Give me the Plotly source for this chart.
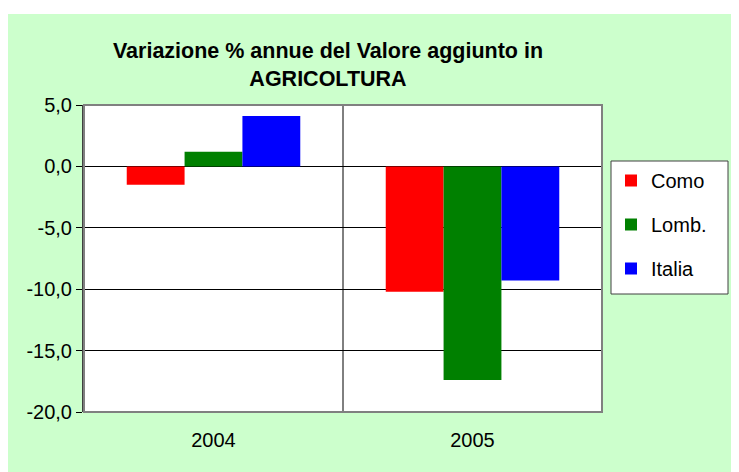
import plotly.graph_objects as go

years = ["2004", "2005"]
como = [-1.5, -10.2]
lomb = [1.2, -17.4]
italia = [4.1, -9.3]

series_names = ["Como", "Lomb.", "Italia"]
series_colors = ["#FF0000", "#008000", "#0000FF"]

y_ticks = [-20, -15, -10, -5, 0, 5]
y_tick_labels = ["-20,0", "-15,0", "-10,0", "-5,0", "0,0", "5,0"]

# the page body adds an 8px offset, so the figure is laid out in shifted pixels
OFF = 8
W, H = 739 - OFF, 472 - OFF
ML, MR, MT, MB = 84 - OFF, 739 - 602, 105 - OFF, 472 - 412
PW, PH = W - ML - MR, H - MT - MB

FONT = "Arial, Liberation Sans, sans-serif"

fig = go.Figure()

for i, (name, vals, color) in enumerate(zip(series_names, [como, lomb, italia], series_colors)):
    fig.add_trace(
        go.Bar(
            x=years,
            y=vals,
            name=name,
            marker_color=color,
            marker_line_width=0,
            legendgroup=f"g{i}",
        )
    )


def px_x(p):
    return (p - OFF - ML) / PW


def px_y(p):
    return (H - MB - (p - OFF)) / PH


shapes = [
    # white strip above the green chart area
    dict(type="rect", xref="paper", yref="paper", x0=px_x(0), x1=px_x(760), y0=px_y(14), y1=px_y(0),
         fillcolor="white", line_width=0, layer="below"),
    # legend box (wider than plotly's auto-sized one)
    dict(type="rect", xref="paper", yref="paper", x0=px_x(611), x1=px_x(728), y0=px_y(294), y1=px_y(161),
         fillcolor="white", line=dict(color="#404040", width=1), layer="below"),
    # category separator
    dict(type="line", xref="x", yref="paper", x0=0.5, x1=0.5, y0=0, y1=1,
         line=dict(color="black", width=1)),
    # plot area frame
    dict(type="rect", xref="paper", yref="paper", x0=0, x1=1, y0=0, y1=1,
         line=dict(color="#808080", width=2)),
]

fig.update_layout(
    width=W,
    height=H,
    margin=dict(l=ML, r=MR, t=MT, b=MB),
    paper_bgcolor="#CCFFCC",
    plot_bgcolor="white",
    barmode="group",
    bargap=0.33,
    bargroupgap=0,
    font=dict(family=FONT, size=20, color="black"),
    title=dict(
        text="<b>Variazione % annue del Valore aggiunto in<br>AGRICOLTURA</b>",
        x=(328 - OFF) / W,
        xanchor="center",
        y=1 - (58 - OFF) / H,
        yanchor="middle",
        font=dict(family=FONT, size=21.5, color="black"),
    ),
    legend=dict(
        x=px_x(611),
        y=px_y(161),
        xanchor="left",
        yanchor="top",
        bgcolor="rgba(0,0,0,0)",
        borderwidth=0,
        font=dict(family=FONT, size=20, color="black"),
        tracegroupgap=15,
        traceorder="grouped",
    ),
    shapes=shapes,
    showlegend=True,
)

fig.update_xaxes(
    showgrid=False,
    ticks="",
    ticklabelstandoff=14,
    showline=False,
)
fig.update_yaxes(
    range=[-20, 5],
    tickvals=y_ticks,
    ticktext=y_tick_labels,
    showgrid=True,
    gridcolor="black",
    gridwidth=1,
    zeroline=True,
    zerolinecolor="black",
    zerolinewidth=1,
    showline=True,
    linecolor="#404040",
    linewidth=2,
    ticks="outside",
    ticklen=6,
    tickcolor="black",
)

fig.write_html("out.html")
